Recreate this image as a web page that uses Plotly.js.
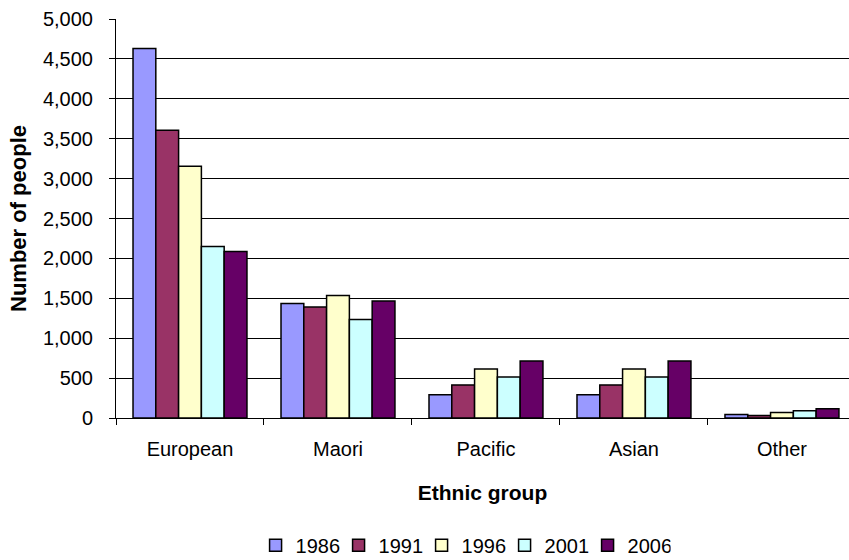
<!DOCTYPE html>
<html>
<head>
<meta charset="utf-8">
<script src="https://cdn.plot.ly/plotly-3.0.1.min.js"></script>
<style>html,body{margin:0;padding:0;overflow:hidden;background:#fff}</style>
</head>
<body>
<div id="chart" style="width:849px;height:560px"></div>
<script>
const categories = ["European", "Maori", "Pacific", "Asian", "Other"];
const years = ["1986", "1991", "1996", "2001", "2006"];
const v1986 = [4630, 1435, 290, 290, 45];
const v1991 = [3605, 1390, 415, 415, 30];
const v1996 = [3155, 1535, 615, 615, 68];
const v2001 = [2150, 1235, 515, 515, 92];
const v2006 = [2085, 1465, 715, 715, 115];
const colors = ["#9999FF", "#993366", "#FFFFCC", "#CCFFFF", "#660066"];
const yTicks = [0, 500, 1000, 1500, 2000, 2500, 3000, 3500, 4000, 4500, 5000];
const yTickText = ["0", "500", "1,000", "1,500", "2,000", "2,500", "3,000", "3,500", "4,000", "4,500", "5,000"];

const series = [v1986, v1991, v1996, v2001, v2006];
const font = "Arial, 'Liberation Sans', sans-serif";
const traces = series.map((vals, i) => ({
  type: "bar",
  name: years[i],
  x: categories,
  y: vals,
  marker: { color: colors[i], line: { color: "#000", width: 1.5 } },
  hoverinfo: "x+y+name"
}));

const layout = {
  width: 849, height: 560,
  margin: { l: 116, r: 0, t: 19, b: 142, autoexpand: false },
  paper_bgcolor: "#fff", plot_bgcolor: "#fff",
  font: { family: font, size: 20, color: "#000" },
  barmode: "group", bargap: 0.23, bargroupgap: 0,
  showlegend: true,
  legend: { orientation: "h", x: 0.4735, xanchor: "center", y: -0.319, yanchor: "middle",
            font: { family: font, size: 20, color: "#000" }, traceorder: "normal",
            itemwidth: 30, entrywidth: 38 },
  xaxis: {
    type: "category",
    range: [-0.5, 4.453],
    tickson: "boundaries",
    ticks: "outside", ticklen: 6, tickcolor: "#000", tickwidth: 1,
    ticklabelstandoff: 13,
    showline: true, linecolor: "#000", linewidth: 1,
    showgrid: false, zeroline: false,
    tickfont: { family: font, size: 20, color: "#000" },
    title: { text: "<b>Ethnic group</b>", font: { family: font, size: 21, color: "#000" }, standoff: 26 }
  },
  yaxis: {
    range: [0, 5000],
    tickvals: yTicks, ticktext: yTickText,
    ticks: "outside", ticklen: 6, tickcolor: "#000", tickwidth: 1,
    ticklabelstandoff: 12,
    showline: true, linecolor: "#000", linewidth: 1,
    showgrid: true, gridcolor: "#000", gridwidth: 1, zeroline: false,
    tickfont: { family: font, size: 20, color: "#000" },
    title: { text: "<b>Number of people</b>", font: { family: font, size: 22, color: "#000" }, standoff: 10 }
  }
};

Plotly.newPlot("chart", traces, layout, { displayModeBar: false, staticPlot: true });
</script>
</body>
</html>
